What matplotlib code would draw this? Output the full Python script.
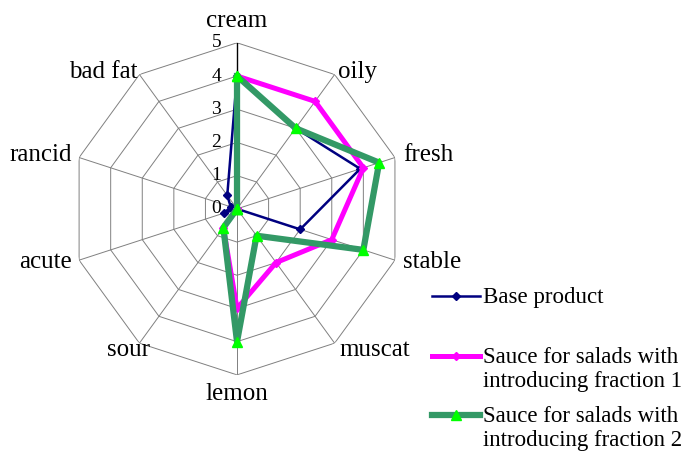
import numpy as np
import matplotlib
matplotlib.use("Agg")
import matplotlib.pyplot as plt
from matplotlib.lines import Line2D

categories = ['cream', 'oily', 'fresh', 'stable', 'muscat', 'lemon',
              'sour', 'acute', 'rancid', 'bad fat']
base_product = [4, 3, 3.9, 2, 0, 0, 0, 0.4, 0.2, 0.5]
fraction1 = [4, 4, 4, 3, 2, 3, 0.7, 0, 0, 0]
fraction2 = [4, 3, 4.5, 4, 1, 4, 0.7, 0, 0, 0]
ring_labels = ['0', '1', '2', '3', '4', '5']
series_names = ['Base product',
                'Sauce for salads with\nintroducing fraction 1',
                'Sauce for salads with\nintroducing fraction 2']

plt.rcParams['font.family'] = ['Liberation Serif', 'DejaVu Serif']

W, H = 689, 455
fig = plt.figure(figsize=(W / 100, H / 100), dpi=100)
ax = fig.add_axes([0.103, 0.176, 0.482, 0.730], projection='polar')
ax.set_theta_zero_location('N')
ax.set_theta_direction(-1)
ax.set_ylim(0, 5)
ax.grid(False)
ax.spines['polar'].set_visible(False)
ax.set_xticks([])
ax.set_yticks([])
ax.patch.set_alpha(0)

n = len(categories)
angles = np.arange(n) * 2 * np.pi / n
closed = np.append(angles, angles[0])

# grid rings
for r in range(1, 6):
    ax.plot(closed, [r] * (n + 1), color='#808080', lw=0.7, zorder=1)
# spokes
for i, a in enumerate(angles):
    ax.plot([a, a], [0, 5], color='black' if i == 0 else '#808080',
            lw=1.0 if i == 0 else 0.7, zorder=1)

# ring labels
for i, t in enumerate(ring_labels):
    ax.annotate(t, xy=(0, i), xytext=(-16, 0), textcoords='offset pixels',
                ha='right', va='center', fontsize=14)

# category labels
offsets = {
    'cream': ((0, 22), 'center'),
    'oily': ((3, 3), 'left'),
    'fresh': ((8, 3), 'left'),
    'stable': ((8, -2), 'left'),
    'muscat': ((5, -7), 'left'),
    'lemon': ((0, -19), 'center'),
    'sour': ((11, -7), 'right'),
    'acute': ((-7, -2), 'right'),
    'rancid': ((-7, 3), 'right'),
    'bad fat': ((-2, 3), 'right'),
}
for a, c in zip(angles, categories):
    off, ha = offsets[c]
    ax.annotate(c, xy=(a, 5), xytext=off, textcoords='offset pixels',
                ha=ha, va='center', fontsize=18)

styles = [
    dict(color='#000080', lw=1.8, marker='D', ms=4.5, mfc='#000080', mec='#000080'),
    dict(color='#FF00FF', lw=3.6, marker='D', ms=4, mfc='#FF00FF', mec='#FF00FF'),
    dict(color='#339966', lw=4.5, marker='^', ms=7, mfc='#00FF00', mec='#00FF00'),
]
for vals, st in zip([base_product, fraction1, fraction2], styles):
    v = np.append(vals, vals[0])
    ax.plot(closed, v, zorder=3, clip_on=False, **st)

# legend (manual, markers aligned with first text line)
legend_y = [296, 356, 415]
for y, name, st in zip(legend_y, series_names, styles):
    fy = 1 - y / H
    fig.add_artist(Line2D([432 / W, 480 / W], [fy, fy], color=st['color'], lw=st['lw']))
    fig.add_artist(Line2D([456 / W], [fy], marker=st['marker'], ms=st['ms'],
                          mfc=st['mfc'], mec=st['mec'], ls='none'))
    fig.text(483 / W, 1 - (y - 9) / H, name, ha='left', va='top', fontsize=16.5,
             linespacing=1.2, transform=fig.transFigure)

fig.savefig('out.png', dpi=100)
